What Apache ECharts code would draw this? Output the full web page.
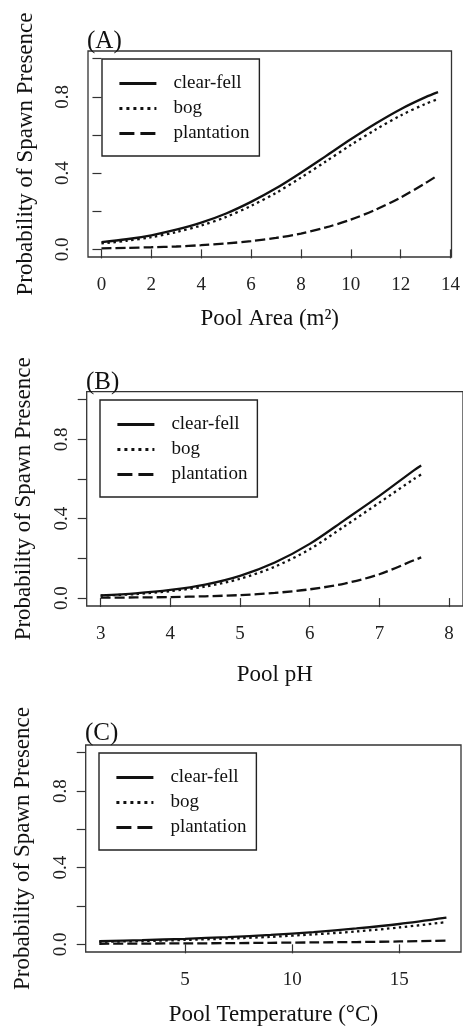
<!DOCTYPE html>
<html>
<head>
<meta charset="utf-8">
<title>Probability of Spawn Presence</title>
<script src="https://cdn.jsdelivr.net/npm/echarts@6/dist/echarts.min.js"></script>
<style>
	html, body { margin: 0; padding: 0; background: #fff; }
	#chart { width: 463px; height: 1027px; }
</style>
</head>
<body>
<div id="chart"></div>
<script>
// (A) pool area
var areaX = [0, 1, 2, 3, 4, 5, 6, 7, 8, 9, 10, 11, 12, 13, 13.5];
var areaClearFell = [0.038, 0.053, 0.074, 0.103, 0.140, 0.188, 0.249, 0.320, 0.402, 0.489, 0.577, 0.660, 0.735, 0.798, 0.824];
var areaBog = [0.031, 0.045, 0.064, 0.091, 0.125, 0.170, 0.228, 0.296, 0.376, 0.461, 0.547, 0.628, 0.702, 0.763, 0.788];
var areaPlantation = [0.005, 0.008, 0.011, 0.015, 0.022, 0.031, 0.043, 0.060, 0.083, 0.115, 0.156, 0.208, 0.272, 0.348, 0.389];

// (B) pool pH
var phX = [3, 3.5, 4, 4.5, 5, 5.5, 6, 6.5, 7, 7.5, 7.6];
var phClearFell = [0.014, 0.024, 0.041, 0.068, 0.112, 0.179, 0.273, 0.393, 0.515, 0.645, 0.668];
var phBog = [0.012, 0.020, 0.035, 0.058, 0.097, 0.158, 0.246, 0.362, 0.481, 0.601, 0.623];
var phPlantation = [0.002, 0.003, 0.005, 0.009, 0.015, 0.026, 0.044, 0.073, 0.120, 0.191, 0.205];

// (C) pool temperature
var tempX = [1, 3, 5, 7, 9, 11, 13, 15, 17.2];
var tempClearFell = [0.017, 0.022, 0.029, 0.038, 0.049, 0.064, 0.083, 0.106, 0.139];
var tempBog = [0.013, 0.017, 0.023, 0.030, 0.039, 0.052, 0.067, 0.088, 0.116];
var tempPlantation = [0.003, 0.004, 0.005, 0.006, 0.008, 0.010, 0.012, 0.015, 0.019];

var habitats = ['clear-fell', 'bog', 'plantation'];
var yTicks = [0, 0.2, 0.4, 0.6, 0.8, 1.0];
var yLabels = [0, 0.4, 0.8];
var areaTicks = [0, 2, 4, 6, 8, 10, 12, 14];
var phTicks = [3, 4, 5, 6, 7, 8];
var tempTicks = [5, 10, 15];

var FONT = "'Liberation Serif', 'Times New Roman', serif";
var INK = '#111';

function pairs(xs, ys) {
	var out = [];
	for (var i = 0; i < xs.length; i++) {
		out.push([xs[i], ys[i]]);
	}
	return out;
}

var lineTypes = {
	'clear-fell': 'solid',
	'bog': [2.5, 3.5],
	'plantation': [10, 4]
};

function makeSeries(idx, xs, cols) {
	return habitats.map(function(name, i) {
		return {
			name: name,
			type: 'line',
			xAxisIndex: idx,
			yAxisIndex: idx,
			symbol: 'none',
			smooth: 0.3,
			silent: true,
			color: INK,
			lineStyle: { color: INK, width: 2.3, type: lineTypes[name] },
			data: pairs(xs, cols[i])
		};
	});
}

function xAxis(idx, min, max, ticks, name, gap) {
	return {
		type: 'value',
		gridIndex: idx,
		min: min,
		max: max,
		name: name,
		nameLocation: 'middle',
		nameGap: gap,
		nameTextStyle: { fontFamily: FONT, fontSize: 23, color: INK },
		axisLine: { show: false },
		splitLine: { show: false },
		axisTick: { length: 9, customValues: ticks, lineStyle: { color: '#333', width: 1.2 } },
		axisLabel: { customValues: ticks, margin: 19, fontFamily: FONT, fontSize: 19, color: '#222' }
	};
}

function yAxis(idx) {
	return {
		type: 'value',
		gridIndex: idx,
		min: -0.04,
		max: 1.04,
		name: 'Probability of Spawn Presence',
		nameLocation: 'middle',
		nameGap: 51,
		nameTextStyle: { fontFamily: FONT, fontSize: 23, color: INK },
		axisLine: { show: false },
		splitLine: { show: false },
		axisTick: { length: 9, customValues: yTicks, lineStyle: { color: '#333', width: 1.2 } },
		axisLabel: {
			customValues: yLabels,
			rotate: 90,
			margin: 15,
			fontFamily: FONT,
			fontSize: 19,
			color: '#222',
			formatter: function(v) { return v.toFixed(1); }
		}
	};
}

function legend(left, top) {
	return {
		left: left,
		top: top,
		orient: 'vertical',
		selectedMode: false,
		itemWidth: 37,
		itemHeight: 14,
		itemGap: 6,
		padding: [15, 10, 13, 16],
		borderColor: '#222',
		borderWidth: 1.4,
		itemStyle: { opacity: 0 },
		textStyle: { fontFamily: FONT, fontSize: 19, color: INK, padding: [0, 0, 0, 12] },
		data: [
			{ name: 'clear-fell', lineStyle: { width: 2.8 } },
			{ name: 'bog', lineStyle: { width: 2.8, type: [3, 4] } },
			{ name: 'plantation', lineStyle: { width: 2.8, type: [15, 6] } }
		]
	};
}

function panelTitle(text, left, top) {
	return {
		text: text,
		left: left,
		top: top,
		padding: 0,
		textStyle: { fontFamily: FONT, fontSize: 25, fontWeight: 'normal', color: INK }
	};
}

var gridBox = { show: true, borderColor: '#333', borderWidth: 1.3, backgroundColor: 'transparent' };

var option = {
	animation: false,
	backgroundColor: '#fff',
	title: [
		panelTitle('(A)', 87, 29),
		panelTitle('(B)', 86, 370),
		panelTitle('(C)', 85, 721)
	],
	legend: [
		legend(102, 59),
		legend(100, 400),
		legend(99, 753)
	],
	grid: [
		Object.assign({ left: 88, top: 51, width: 364, height: 206 }, gridBox),
		Object.assign({ left: 86.7, top: 391.7, width: 380.7, height: 214.3 }, gridBox),
		Object.assign({ left: 85.7, top: 745, width: 375.3, height: 209.3 }, gridBox)
	],
	xAxis: [
		xAxis(0, -0.54, 14.04, areaTicks, 'Pool Area (m²)', 50),
		xAxis(1, 2.8, 8.2, phTicks, 'Pool pH', 57),
		xAxis(2, 0.366, 17.88, tempTicks, 'Pool Temperature (°C)', 51)
	],
	yAxis: [yAxis(0), yAxis(1), yAxis(2)],
	series: []
		.concat(makeSeries(0, areaX, [areaClearFell, areaBog, areaPlantation]))
		.concat(makeSeries(1, phX, [phClearFell, phBog, phPlantation]))
		.concat(makeSeries(2, tempX, [tempClearFell, tempBog, tempPlantation]))
};

var myChart = echarts.init(document.getElementById('chart'), null, { renderer: 'canvas' });
myChart.setOption(option);
</script>
</body>
</html>
